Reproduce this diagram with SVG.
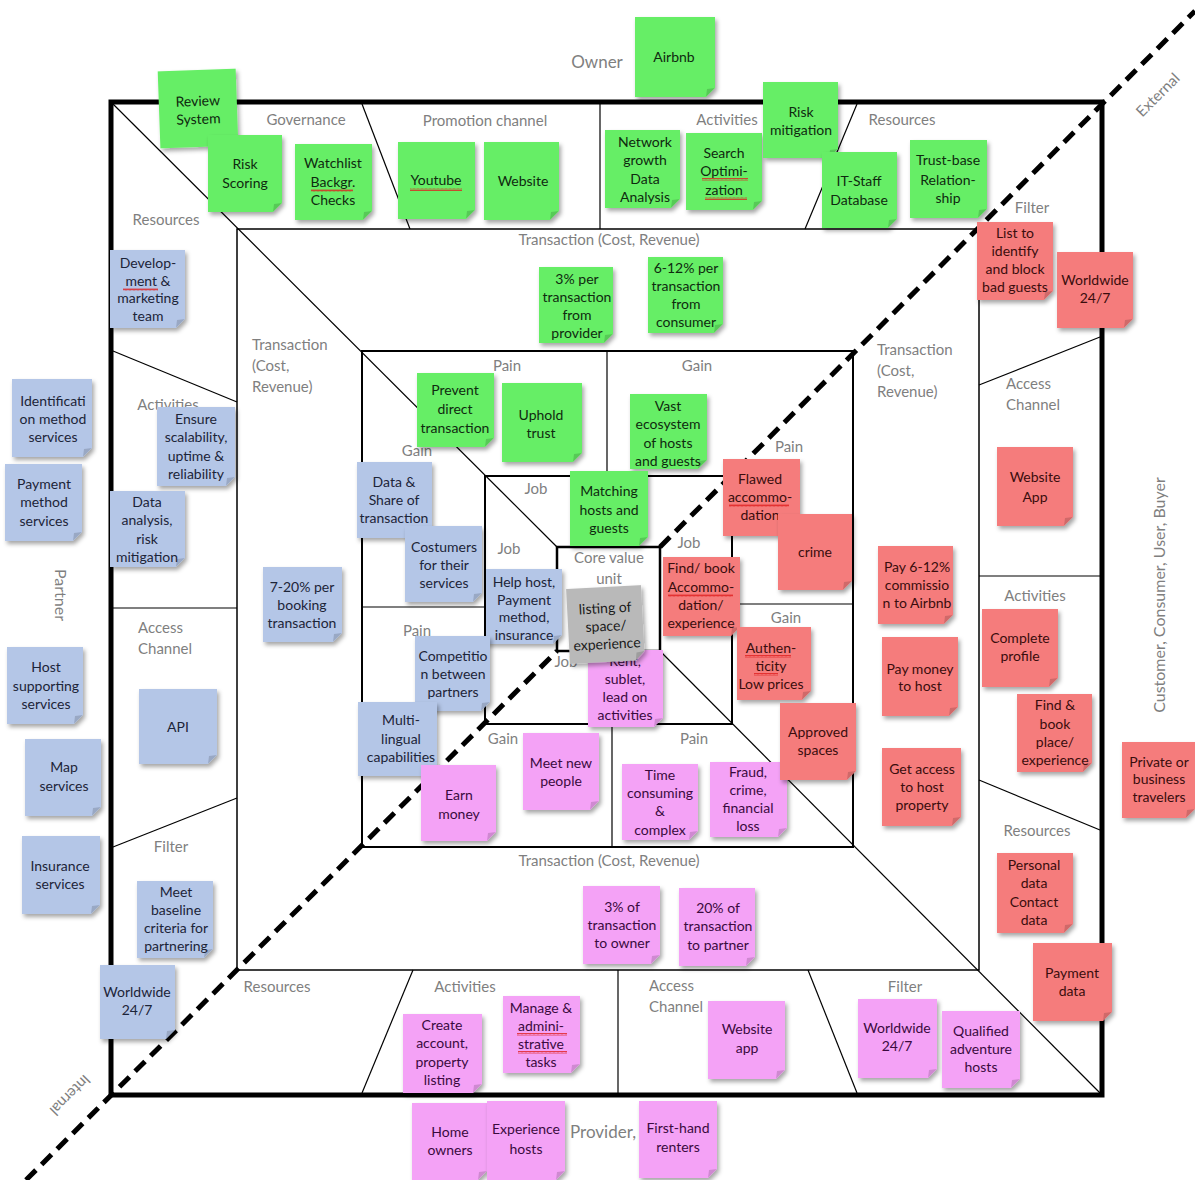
<svg xmlns="http://www.w3.org/2000/svg" width="1195" height="1180" viewBox="0 0 1195 1180">
<defs>
<filter id="sh" x="-20%" y="-20%" width="150%" height="150%"><feDropShadow dx="2" dy="3" stdDeviation="2.2" flood-color="#000" flood-opacity="0.35"/></filter>
<pattern id="wave" width="4" height="3" patternUnits="userSpaceOnUse"><path d="M0,2.5 L1,0.5 L2,2.5 L3,0.5 L4,2.5" fill="none" stroke="#e02020" stroke-width="0.8"/></pattern>
<style>
.fr{fill:none;stroke:#000}
.dv{stroke:#000;stroke-width:1.2}
.dash{stroke:#000;stroke-width:5;stroke-dasharray:14 8}
.lbl{font-family:Lato,"Open Sans",sans-serif;font-size:15px;fill:#7f7f7f;text-anchor:middle}
.ls{text-anchor:start}
.body{filter:url(#sh)}
.fold{fill:#000;fill-opacity:0.15}
.g .body{fill:#66ee66}
.b .body{fill:#b4c6e7}
.r .body{fill:#f57c7c}
.p .body{fill:#f4a2f6}
.k .body{fill:#b9b9b9}
.st text{font-family:Lato,"Open Sans",sans-serif;font-size:14px;text-anchor:middle;fill:#1a1a1a}
.g text{fill:#0f2a0f}
.b text{fill:#1c2438}
.r text{fill:#3a0d0d}
.p text{fill:#3a0a3e}
.wv{fill:url(#wave)}
</style>
</defs>
<rect width="1195" height="1180" fill="#fff"/>
<g id="frame">
<rect class="fr" x="111" y="102" width="991" height="993" stroke-width="5"/>
<rect class="fr" x="237" y="229" width="742" height="741" stroke-width="1.5"/>
<rect class="fr" x="362" y="351" width="491" height="496" stroke-width="2"/>
<rect class="fr" x="485" y="476" width="247" height="248" stroke-width="2"/>
<rect class="fr" x="557" y="547" width="103" height="104" stroke-width="2.5"/>
<line class="dv" x1="111" y1="102" x2="557" y2="547" stroke-width="2"/>
<line class="dv" x1="660" y1="651" x2="1102" y2="1095" stroke-width="2"/>
<line class="dv" x1="362" y1="104" x2="410" y2="229"/>
<line class="dv" x1="600" y1="104" x2="600" y2="229"/>
<line class="dv" x1="857" y1="104" x2="805" y2="229"/>
<line class="dv" x1="113" y1="351" x2="237" y2="402"/>
<line class="dv" x1="113" y1="608" x2="237" y2="608"/>
<line class="dv" x1="113" y1="847" x2="237" y2="798"/>
<line class="dv" x1="413" y1="970" x2="362" y2="1093"/>
<line class="dv" x1="618" y1="970" x2="618" y2="1093"/>
<line class="dv" x1="808" y1="970" x2="857" y2="1093"/>
<line class="dv" x1="979" y1="385" x2="1100" y2="337"/>
<line class="dv" x1="979" y1="576" x2="1100" y2="576"/>
<line class="dv" x1="979" y1="780" x2="1100" y2="830"/>
<line class="dv" x1="607" y1="351" x2="607" y2="476" stroke-width="1.5"/>
<line class="dv" x1="362" y1="607" x2="485" y2="607" stroke-width="1.5"/>
<line class="dv" x1="612" y1="724" x2="612" y2="847" stroke-width="1.5"/>
<line class="dv" x1="732" y1="604" x2="853" y2="604" stroke-width="1.5"/>
</g>
<g id="labels">
<text class="lbl" x="597" y="68" style="font-size:17px">Owner</text>
<text class="lbl" x="306" y="125">Governance</text>
<text class="lbl" x="485" y="126">Promotion channel</text>
<text class="lbl" x="727" y="125">Activities</text>
<text class="lbl" x="902" y="125">Resources</text>
<text class="lbl" x="609" y="245">Transaction (Cost, Revenue)</text>
<text class="lbl" x="166" y="225">Resources</text>
<text class="lbl ls" x="252" y="350">Transaction<tspan x="252" y="371">(Cost,</tspan><tspan x="252" y="392">Revenue)</tspan></text>
<text class="lbl" x="168" y="410">Activities</text>
<text class="lbl ls" x="138" y="633">Access<tspan x="138" y="654">Channel</tspan></text>
<text class="lbl" x="171" y="852">Filter</text>
<text class="lbl" x="1032" y="213">Filter</text>
<text class="lbl ls" x="877" y="355">Transaction<tspan x="877" y="376">(Cost,</tspan><tspan x="877" y="397">Revenue)</tspan></text>
<text class="lbl ls" x="1006" y="389">Access<tspan x="1006" y="410">Channel</tspan></text>
<text class="lbl" x="1035" y="601">Activities</text>
<text class="lbl" x="1037" y="836">Resources</text>
<text class="lbl" x="609" y="866">Transaction (Cost, Revenue)</text>
<text class="lbl" x="277" y="992">Resources</text>
<text class="lbl" x="465" y="992">Activities</text>
<text class="lbl ls" x="649" y="991">Access<tspan x="649" y="1012">Channel</tspan></text>
<text class="lbl" x="905" y="992">Filter</text>
<text class="lbl ls" x="570" y="1138" style="font-size:17px">Provider,</text>
<text class="lbl" x="507" y="371">Pain</text>
<text class="lbl" x="697" y="371">Gain</text>
<text class="lbl" x="417" y="456">Gain</text>
<text class="lbl" x="417" y="636">Pain</text>
<text class="lbl" x="503" y="744">Gain</text>
<text class="lbl" x="694" y="744">Pain</text>
<text class="lbl" x="789" y="452">Pain</text>
<text class="lbl" x="786" y="623">Gain</text>
<text class="lbl" x="536" y="494">Job</text>
<text class="lbl" x="509" y="554">Job</text>
<text class="lbl" x="689" y="548">Job</text>
<text class="lbl" x="566" y="667">Job</text>
<text class="lbl" x="609" y="563">Core value<tspan x="609" y="584">unit</tspan></text>
<text class="lbl" transform="translate(60,595) rotate(90)" x="0" y="5" style="font-size:16px">Partner</text>
<text class="lbl" transform="translate(1160,595) rotate(-90)" x="0" y="5" style="font-size:16px">Customer, Consumer, User, Buyer</text>
<text class="lbl" transform="translate(1158,95) rotate(-45)" x="0" y="5">External</text>
<text class="lbl" transform="translate(70,1095) rotate(135)" x="0" y="5">Internal</text>
</g>
<g id="connectors">
<line class="dash" x1="26" y1="1180" x2="557" y2="651"/>
<line class="dash" x1="660" y1="547" x2="1195" y2="11"/>
</g>
<g id="nodes">
<g id="n-review" class="st g" transform="rotate(-2 198 108)"><path class="body" d="M159,70 h78 v68 l-9,9 h-69 z"/><path class="fold" d="M159,70 m78,68 l-9,9 l1,-8 z"/><text x="198" y="106">Review<tspan x="198" y="124">System</tspan></text></g>
<g id="n-riskscore" class="st g"><path class="body" d="M208,135 h74 v68 l-9,9 h-65 z"/><path class="fold" d="M208,135 m74,68 l-9,9 l1,-8 z"/><text x="245" y="169">Risk<tspan x="245" y="188">Scoring</tspan></text></g>
<g id="n-watch" class="st g"><path class="body" d="M295,144 h77 v67 l-9,9 h-68 z"/><path class="fold" d="M295,144 m77,67 l-9,9 l1,-8 z"/><text x="333" y="168">Watchlist<tspan x="333" y="187">Backgr.</tspan><tspan x="333" y="205">Checks</tspan></text><rect class="wv" x="311" y="189" width="42" height="3"/></g>
<g id="n-airbnb" class="st g"><path class="body" d="M635,17 h80 v71 l-9,9 h-71 z"/><path class="fold" d="M635,17 m80,71 l-9,9 l1,-8 z"/><text x="674" y="62">Airbnb</text></g>
<g id="n-youtube" class="st g"><path class="body" d="M398,142 h77 v68 l-9,9 h-68 z"/><path class="fold" d="M398,142 m77,68 l-9,9 l1,-8 z"/><text x="436" y="185">Youtube</text><rect class="wv" x="410" y="188" width="52" height="3"/></g>
<g id="n-website" class="st g"><path class="body" d="M484,142 h75 v69 l-9,9 h-66 z"/><path class="fold" d="M484,142 m75,69 l-9,9 l1,-8 z"/><text x="523" y="186">Website</text></g>
<g id="n-network" class="st g"><path class="body" d="M605,130 h75 v69 l-9,9 h-66 z"/><path class="fold" d="M605,130 m75,69 l-9,9 l1,-8 z"/><text x="645" y="147">Network<tspan x="645" y="165">growth</tspan><tspan x="645" y="184">Data</tspan><tspan x="645" y="202">Analysis</tspan></text></g>
<g id="n-search" class="st g"><path class="body" d="M686,133 h76 v68 l-9,9 h-67 z"/><path class="fold" d="M686,133 m76,68 l-9,9 l1,-8 z"/><text x="724" y="158">Search<tspan x="724" y="176">Optimi-</tspan><tspan x="724" y="195">zation</tspan></text><rect class="wv" x="702" y="178" width="46" height="3"/><rect class="wv" x="705" y="197" width="42" height="3"/></g>
<g id="n-riskmit" class="st g"><path class="body" d="M763,82 h75 v67 l-9,9 h-66 z"/><path class="fold" d="M763,82 m75,67 l-9,9 l1,-8 z"/><text x="801" y="117">Risk<tspan x="801" y="135">mitigation</tspan></text></g>
<g id="n-itstaff" class="st g"><path class="body" d="M822,152 h75 v67 l-9,9 h-66 z"/><path class="fold" d="M822,152 m75,67 l-9,9 l1,-8 z"/><text x="859" y="186">IT-Staff<tspan x="859" y="205">Database</tspan></text></g>
<g id="n-trust" class="st g"><path class="body" d="M910,140 h77 v69 l-9,9 h-68 z"/><path class="fold" d="M910,140 m77,69 l-9,9 l1,-8 z"/><text x="948" y="165">Trust-base<tspan x="948" y="185">Relation-</tspan><tspan x="948" y="203">ship</tspan></text></g>
<g id="n-3pct" class="st g"><path class="body" d="M539,267 h74 v67 l-9,9 h-65 z"/><path class="fold" d="M539,267 m74,67 l-9,9 l1,-8 z"/><text x="577" y="284">3% per<tspan x="577" y="302">transaction</tspan><tspan x="577" y="320">from</tspan><tspan x="577" y="338">provider</tspan></text></g>
<g id="n-612" class="st g"><path class="body" d="M648,257 h75 v67 l-9,9 h-66 z"/><path class="fold" d="M648,257 m75,67 l-9,9 l1,-8 z"/><text x="686" y="273">6-12% per<tspan x="686" y="291">transaction</tspan><tspan x="686" y="309">from</tspan><tspan x="686" y="327">consumer</tspan></text></g>
<g id="n-prevent" class="st g"><path class="body" d="M417,373 h77 v65 l-9,9 h-68 z"/><path class="fold" d="M417,373 m77,65 l-9,9 l1,-8 z"/><text x="455" y="395">Prevent<tspan x="455" y="414">direct</tspan><tspan x="455" y="433">transaction</tspan></text></g>
<g id="n-uphold" class="st g"><path class="body" d="M502,383 h80 v70 l-9,9 h-71 z"/><path class="fold" d="M502,383 m80,70 l-9,9 l1,-8 z"/><text x="541" y="420">Uphold<tspan x="541" y="438">trust</tspan></text></g>
<g id="n-vast" class="st g"><path class="body" d="M630,394 h77 v66 l-9,9 h-68 z"/><path class="fold" d="M630,394 m77,66 l-9,9 l1,-8 z"/><text x="668" y="411">Vast<tspan x="668" y="429">ecosystem</tspan><tspan x="668" y="448">of hosts</tspan><tspan x="668" y="466">and guests</tspan></text></g>
<g id="n-matching" class="st g"><path class="body" d="M570,471 h78 v66 l-9,9 h-69 z"/><path class="fold" d="M570,471 m78,66 l-9,9 l1,-8 z"/><text x="609" y="496">Matching<tspan x="609" y="515">hosts and</tspan><tspan x="609" y="533">guests</tspan></text></g>

<g id="n-develop" class="st b"><path class="body" d="M110,250 h75 v69 l-9,9 h-66 z"/><path class="fold" d="M110,250 m75,69 l-9,9 l1,-8 z"/><text x="148" y="268">Develop-<tspan x="148" y="286">ment &amp;</tspan><tspan x="148" y="303">marketing</tspan><tspan x="148" y="321">team</tspan></text><rect class="wv" x="123" y="288" width="35" height="3"/></g>
<g id="n-ident" class="st b"><path class="body" d="M12,379 h80 v69 l-9,9 h-71 z"/><path class="fold" d="M12,379 m80,69 l-9,9 l1,-8 z"/><text x="53" y="406">Identificati<tspan x="53" y="424">on method</tspan><tspan x="53" y="442">services</tspan></text></g>
<g id="n-payment" class="st b"><path class="body" d="M5,464 h77 v68 l-9,9 h-68 z"/><path class="fold" d="M5,464 m77,68 l-9,9 l1,-8 z"/><text x="44" y="489">Payment<tspan x="44" y="507">method</tspan><tspan x="44" y="526">services</tspan></text></g>
<g id="n-ensure" class="st b"><path class="body" d="M157,407 h78 v70 l-9,9 h-69 z"/><path class="fold" d="M157,407 m78,70 l-9,9 l1,-8 z"/><text x="196" y="424">Ensure<tspan x="196" y="442">scalability,</tspan><tspan x="196" y="461">uptime &amp;</tspan><tspan x="196" y="479">reliability</tspan></text></g>
<g id="n-dataanal" class="st b"><path class="body" d="M110,491 h75 v67 l-9,9 h-66 z"/><path class="fold" d="M110,491 m75,67 l-9,9 l1,-8 z"/><text x="147" y="507">Data<tspan x="147" y="525">analysis,</tspan><tspan x="147" y="544">risk</tspan><tspan x="147" y="562">mitigation</tspan></text></g>
<g id="n-720" class="st b"><path class="body" d="M263,567 h79 v66 l-9,9 h-70 z"/><path class="fold" d="M263,567 m79,66 l-9,9 l1,-8 z"/><text x="302" y="592">7-20% per<tspan x="302" y="610">booking</tspan><tspan x="302" y="628">transaction</tspan></text></g>
<g id="n-host" class="st b"><path class="body" d="M7,647 h76 v68 l-9,9 h-67 z"/><path class="fold" d="M7,647 m76,68 l-9,9 l1,-8 z"/><text x="46" y="672">Host<tspan x="46" y="691">supporting</tspan><tspan x="46" y="709">services</tspan></text></g>
<g id="n-api" class="st b"><path class="body" d="M139,689 h78 v66 l-9,9 h-69 z"/><path class="fold" d="M139,689 m78,66 l-9,9 l1,-8 z"/><text x="178" y="732">API</text></g>
<g id="n-map" class="st b"><path class="body" d="M25,739 h76 v68 l-9,9 h-67 z"/><path class="fold" d="M25,739 m76,68 l-9,9 l1,-8 z"/><text x="64" y="772">Map<tspan x="64" y="791">services</tspan></text></g>
<g id="n-insurance" class="st b"><path class="body" d="M22,836 h78 v69 l-9,9 h-69 z"/><path class="fold" d="M22,836 m78,69 l-9,9 l1,-8 z"/><text x="60" y="871">Insurance<tspan x="60" y="889">services</tspan></text></g>
<g id="n-meet" class="st b"><path class="body" d="M137,881 h76 v68 l-9,9 h-67 z"/><path class="fold" d="M137,881 m76,68 l-9,9 l1,-8 z"/><text x="176" y="897">Meet<tspan x="176" y="915">baseline</tspan><tspan x="176" y="933">criteria for</tspan><tspan x="176" y="951">partnering</tspan></text></g>
<g id="n-ww-blue" class="st b"><path class="body" d="M100,965 h75 v65 l-9,9 h-66 z"/><path class="fold" d="M100,965 m75,65 l-9,9 l1,-8 z"/><text x="137" y="997">Worldwide<tspan x="137" y="1015">24/7</tspan></text></g>
<g id="n-datashare" class="st b"><path class="body" d="M357,462 h75 v67 l-9,9 h-66 z"/><path class="fold" d="M357,462 m75,67 l-9,9 l1,-8 z"/><text x="394" y="487">Data &amp;<tspan x="394" y="505">Share of</tspan><tspan x="394" y="523">transaction</tspan></text></g>
<g id="n-costumers" class="st b"><path class="body" d="M405,526 h77 v67 l-9,9 h-68 z"/><path class="fold" d="M405,526 m77,67 l-9,9 l1,-8 z"/><text x="444" y="552">Costumers<tspan x="444" y="570">for their</tspan><tspan x="444" y="588">services</tspan></text></g>
<g id="n-helphost" class="st b"><path class="body" d="M486,569 h76 v66 l-9,9 h-67 z"/><path class="fold" d="M486,569 m76,66 l-9,9 l1,-8 z"/><text x="524" y="587">Help host,<tspan x="524" y="605">Payment</tspan><tspan x="524" y="622">method,</tspan><tspan x="524" y="640">insurance</tspan></text></g>
<g id="n-competition" class="st b"><path class="body" d="M415,636 h75 v66 l-9,9 h-66 z"/><path class="fold" d="M415,636 m75,66 l-9,9 l1,-8 z"/><text x="453" y="661">Competitio<tspan x="453" y="679">n between</tspan><tspan x="453" y="697">partners</tspan></text></g>
<g id="n-multi" class="st b"><path class="body" d="M358,702 h79 v65 l-9,9 h-70 z"/><path class="fold" d="M358,702 m79,65 l-9,9 l1,-8 z"/><text x="401" y="725">Multi-<tspan x="401" y="744">lingual</tspan><tspan x="401" y="762">capabilities</tspan></text></g>

<g id="n-rent" class="st p"><path class="body" d="M588,650 h75 v68 l-9,9 h-66 z"/><path class="fold" d="M588,650 m75,68 l-9,9 l1,-8 z"/><text x="625" y="666">Rent,<tspan x="625" y="684">sublet,</tspan><tspan x="625" y="702">lead on</tspan><tspan x="625" y="720">activities</tspan></text></g>
<g id="n-listing" class="st k" transform="rotate(-3 606 625)"><path class="body" d="M568,587 h75 v66 l-9,9 h-66 z"/><path class="fold" d="M568,587 m75,66 l-9,9 l1,-8 z"/><text x="606" y="613">listing of<tspan x="606" y="631">space/</tspan><tspan x="606" y="649">experience</tspan></text></g>
<g id="n-earn" class="st p"><path class="body" d="M421,765 h75 v67 l-9,9 h-66 z"/><path class="fold" d="M421,765 m75,67 l-9,9 l1,-8 z"/><text x="459" y="800">Earn<tspan x="459" y="819">money</tspan></text></g>
<g id="n-meetnew" class="st p"><path class="body" d="M523,733 h76 v68 l-9,9 h-67 z"/><path class="fold" d="M523,733 m76,68 l-9,9 l1,-8 z"/><text x="561" y="768">Meet new<tspan x="561" y="786">people</tspan></text></g>
<g id="n-time" class="st p"><path class="body" d="M622,764 h76 v67 l-9,9 h-67 z"/><path class="fold" d="M622,764 m76,67 l-9,9 l1,-8 z"/><text x="660" y="780">Time<tspan x="660" y="798">consuming</tspan><tspan x="660" y="816">&amp;</tspan><tspan x="660" y="835">complex</tspan></text></g>
<g id="n-fraud" class="st p"><path class="body" d="M710,762 h77 v66 l-9,9 h-68 z"/><path class="fold" d="M710,762 m77,66 l-9,9 l1,-8 z"/><text x="748" y="777">Fraud,<tspan x="748" y="795">crime,</tspan><tspan x="748" y="813">financial</tspan><tspan x="748" y="831">loss</tspan></text></g>
<g id="n-3owner" class="st p"><path class="body" d="M583,886 h77 v69 l-9,9 h-68 z"/><path class="fold" d="M583,886 m77,69 l-9,9 l1,-8 z"/><text x="622" y="912">3% of<tspan x="622" y="930">transaction</tspan><tspan x="622" y="948">to owner</tspan></text></g>
<g id="n-20partner" class="st p"><path class="body" d="M679,888 h76 v69 l-9,9 h-67 z"/><path class="fold" d="M679,888 m76,69 l-9,9 l1,-8 z"/><text x="718" y="913">20% of<tspan x="718" y="931">transaction</tspan><tspan x="718" y="950">to partner</tspan></text></g>
<g id="n-create" class="st p"><path class="body" d="M403,1014 h79 v70 l-9,9 h-70 z"/><path class="fold" d="M403,1014 m79,70 l-9,9 l1,-8 z"/><text x="442" y="1030">Create<tspan x="442" y="1048">account,</tspan><tspan x="442" y="1067">property</tspan><tspan x="442" y="1085">listing</tspan></text></g>
<g id="n-manage" class="st p"><path class="body" d="M503,996 h77 v68 l-9,9 h-68 z"/><path class="fold" d="M503,996 m77,68 l-9,9 l1,-8 z"/><text x="541" y="1013">Manage &amp;<tspan x="541" y="1031">admini-</tspan><tspan x="541" y="1049">strative</tspan><tspan x="541" y="1067">tasks</tspan></text><rect class="wv" x="517" y="1033" width="50" height="3"/><rect class="wv" x="518" y="1051" width="49" height="3"/></g>
<g id="n-webapp-p" class="st p"><path class="body" d="M708,1001 h77 v69 l-9,9 h-68 z"/><path class="fold" d="M708,1001 m77,69 l-9,9 l1,-8 z"/><text x="747" y="1034">Website<tspan x="747" y="1053">app</tspan></text></g>
<g id="n-home" class="st p"><path class="body" d="M412,1103 h75 v68 l-9,9 h-66 z"/><path class="fold" d="M412,1103 m75,68 l-9,9 l1,-8 z"/><text x="450" y="1137">Home<tspan x="450" y="1155">owners</tspan></text></g>
<g id="n-exphosts" class="st p"><path class="body" d="M487,1101 h78 v70 l-9,9 h-69 z"/><path class="fold" d="M487,1101 m78,70 l-9,9 l1,-8 z"/><text x="526" y="1134">Experience<tspan x="526" y="1154">hosts</tspan></text></g>
<g id="n-firsthand" class="st p"><path class="body" d="M639,1101 h78 v68 l-9,9 h-69 z"/><path class="fold" d="M639,1101 m78,68 l-9,9 l1,-8 z"/><text x="678" y="1133">First-hand<tspan x="678" y="1152">renters</tspan></text></g>
<g id="n-ww-pink" class="st p"><path class="body" d="M858,999 h79 v70 l-9,9 h-70 z"/><path class="fold" d="M858,999 m79,70 l-9,9 l1,-8 z"/><text x="897" y="1033">Worldwide<tspan x="897" y="1051">24/7</tspan></text></g>
<g id="n-qualified" class="st p"><path class="body" d="M942,1011 h78 v68 l-9,9 h-69 z"/><path class="fold" d="M942,1011 m78,68 l-9,9 l1,-8 z"/><text x="981" y="1036">Qualified<tspan x="981" y="1054">adventure</tspan><tspan x="981" y="1072">hosts</tspan></text></g>

<g id="n-list" class="st r"><path class="body" d="M977,222 h76 v69 l-9,9 h-67 z"/><path class="fold" d="M977,222 m76,69 l-9,9 l1,-8 z"/><text x="1015" y="238">List to<tspan x="1015" y="256">identify</tspan><tspan x="1015" y="274">and block</tspan><tspan x="1015" y="292">bad guests</tspan></text></g>
<g id="n-ww-red" class="st r"><path class="body" d="M1057,252 h76 v67 l-9,9 h-67 z"/><path class="fold" d="M1057,252 m76,67 l-9,9 l1,-8 z"/><text x="1095" y="285">Worldwide<tspan x="1095" y="303">24/7</tspan></text></g>
<g id="n-flawed" class="st r"><path class="body" d="M723,459 h77 v68 l-9,9 h-68 z"/><path class="fold" d="M723,459 m77,68 l-9,9 l1,-8 z"/><text x="760" y="484">Flawed<tspan x="760" y="502">accommo-</tspan><tspan x="760" y="520">dation</tspan></text><rect class="wv" x="729" y="504" width="60" height="3"/></g>
<g id="n-crime" class="st r"><path class="body" d="M778,514 h74 v67 l-9,9 h-65 z"/><path class="fold" d="M778,514 m74,67 l-9,9 l1,-8 z"/><text x="815" y="557">crime</text></g>
<g id="n-find" class="st r"><path class="body" d="M663,557 h77 v70 l-9,9 h-68 z"/><path class="fold" d="M663,557 m77,70 l-9,9 l1,-8 z"/><text x="701" y="573">Find/ book<tspan x="701" y="592">Accommo-</tspan><tspan x="701" y="610">dation/</tspan><tspan x="701" y="628">experience</tspan></text><rect class="wv" x="668" y="594" width="65" height="3"/></g>
<g id="n-authen" class="st r"><path class="body" d="M737,627 h74 v64 l-9,9 h-65 z"/><path class="fold" d="M737,627 m74,64 l-9,9 l1,-8 z"/><text x="771" y="653">Authen-<tspan x="771" y="671">ticity</tspan><tspan x="771" y="689">Low prices</tspan></text><rect class="wv" x="745" y="655" width="46" height="3"/><rect class="wv" x="754" y="673" width="24" height="3"/></g>
<g id="n-approved" class="st r"><path class="body" d="M780,703 h76 v68 l-9,9 h-67 z"/><path class="fold" d="M780,703 m76,68 l-9,9 l1,-8 z"/><text x="818" y="737">Approved<tspan x="818" y="755">spaces</tspan></text></g>
<g id="n-webapp-r" class="st r"><path class="body" d="M997,447 h76 v70 l-9,9 h-67 z"/><path class="fold" d="M997,447 m76,70 l-9,9 l1,-8 z"/><text x="1035" y="482">Website<tspan x="1035" y="502">App</tspan></text></g>
<g id="n-pay612" class="st r"><path class="body" d="M878,546 h75 v69 l-9,9 h-66 z"/><path class="fold" d="M878,546 m75,69 l-9,9 l1,-8 z"/><text x="917" y="572">Pay 6-12%<tspan x="917" y="590">commissio</tspan><tspan x="917" y="608">n to Airbnb</tspan></text></g>
<g id="n-paymoney" class="st r"><path class="body" d="M882,637 h76 v70 l-9,9 h-67 z"/><path class="fold" d="M882,637 m76,70 l-9,9 l1,-8 z"/><text x="920" y="674">Pay money<tspan x="920" y="691">to host</tspan></text></g>
<g id="n-getaccess" class="st r"><path class="body" d="M882,748 h79 v69 l-9,9 h-70 z"/><path class="fold" d="M882,748 m79,69 l-9,9 l1,-8 z"/><text x="922" y="774">Get access<tspan x="922" y="792">to host</tspan><tspan x="922" y="810">property</tspan></text></g>
<g id="n-complete" class="st r"><path class="body" d="M982,609 h76 v69 l-9,9 h-67 z"/><path class="fold" d="M982,609 m76,69 l-9,9 l1,-8 z"/><text x="1020" y="643">Complete<tspan x="1020" y="661">profile</tspan></text></g>
<g id="n-findbook" class="st r"><path class="body" d="M1017,694 h75 v69 l-9,9 h-66 z"/><path class="fold" d="M1017,694 m75,69 l-9,9 l1,-8 z"/><text x="1055" y="710">Find &amp;<tspan x="1055" y="729">book</tspan><tspan x="1055" y="747">place/</tspan><tspan x="1055" y="765">experience</tspan></text></g>
<g id="n-private" class="st r"><path class="body" d="M1122,742 h73 v67 l-9,9 h-64 z"/><path class="fold" d="M1122,742 m73,67 l-9,9 l1,-8 z"/><text x="1159" y="767">Private or<tspan x="1159" y="784">business</tspan><tspan x="1159" y="802">travelers</tspan></text></g>
<g id="n-personal" class="st r"><path class="body" d="M997,853 h76 v71 l-9,9 h-67 z"/><path class="fold" d="M997,853 m76,71 l-9,9 l1,-8 z"/><text x="1034" y="870">Personal<tspan x="1034" y="888">data</tspan><tspan x="1034" y="907">Contact</tspan><tspan x="1034" y="925">data</tspan></text></g>
<g id="n-paydata" class="st r"><path class="body" d="M1033,943 h79 v69 l-9,9 h-70 z"/><path class="fold" d="M1033,943 m79,69 l-9,9 l1,-8 z"/><text x="1072" y="978">Payment<tspan x="1072" y="996">data</tspan></text></g>
</g>
</svg>
